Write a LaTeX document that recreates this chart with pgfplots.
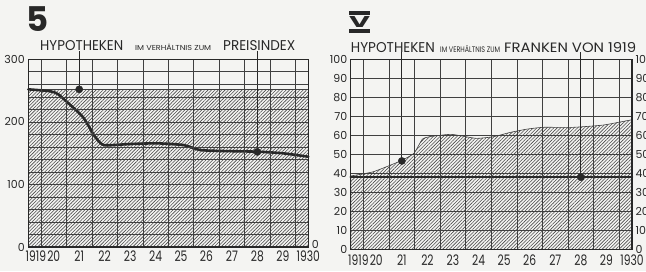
\documentclass[border=0pt]{standalone}
\usepackage{pgfplots}
\pgfplotsset{compat=1.18}
\usepackage{graphicx}
\usepackage{fontspec}
\setmainfont{Poppins}
\newfontfamily\tickfont{Poppins}[FakeStretch=0.74]
\usetikzlibrary{patterns.meta}
\definecolor{paper}{RGB}{244,244,242}
\definecolor{ink}{RGB}{40,40,40}

\pgfplotsset{
  base/.style={
    scale only axis, anchor=south west, clip=false,
    axis on top,
    xmin=1919, xmax=1930,
    xtick={1919.3,1920,1921,1922,1923,1924,1925,1926,1927,1928,1929,1930},
    xticklabels={1919,20,21,22,23,24,25,26,27,28,29,1930},
    minor xtick={1919.5,1920.5,...,1929.5},
    xmajorgrids=false, xminorgrids=true, ymajorgrids=true,
    major tick length=0pt, minor tick length=0pt,
    grid style={black!75, line width=0.65pt},
    minor grid style={black!75, line width=0.65pt},
    axis line style={ink, line width=1.5pt},
    xticklabel style={font=\tickfont\fontsize{14.5}{14.5}\selectfont, text=ink, inner sep=1pt, yshift=-3pt},
    yticklabel style={font=\fontsize{11}{11}\selectfont, text=ink},
  },
  rlab/.style={
    scale only axis, anchor=south west,
    xmin=1919, xmax=1930, axis x line=none, axis y line*=right,
    major tick length=0pt, axis line style={draw=none},
    yticklabel style={font=\fontsize{11}{11}\selectfont, text=ink},
  },
  hatch/.style={pattern={Lines[angle=45,distance=2.4pt,line width=0.6pt]}, pattern color=black!70, draw=black!75, line width=0.6pt},
  thickline/.style={ink, line width=2.6pt, line join=round, line cap=round},
  leader/.style={ink, line width=0.9pt},
  dot/.style={only marks, mark=*, mark size=3.6pt, ink},
}

\begin{document}
\begin{tikzpicture}
\fill[paper] (0,0) rectangle (646pt,271pt);

% ---------------- left chart ----------------
\begin{axis}[base, at={(28.3pt,24pt)}, width=280pt, height=187.7pt,
  ymin=0, ymax=300, ytick={0,100,200,300}, yticklabels={0,100,200,300},
  minor ytick={20,40,...,280}, yminorgrids=true]
\addplot[hatch] coordinates {(1919,252) (1930,252)} \closedcycle;
\addplot[leader] coordinates {(1921,252) (1921,314)};
\addplot[leader] coordinates {(1928,152) (1928,314)};
\addplot[thickline, smooth, tension=0.35] coordinates {
 (1919,252) (1919.85,249) (1920.18,244) (1920.84,220) (1921.16,207)
 (1921.42,190) (1921.56,180) (1921.95,163) (1923.0,164.6) (1924.05,165.7)
 (1925.09,163) (1925.75,155) (1926.66,153.4) (1928.04,152.3)
 (1929.02,149.7) (1930,144.3)};
\addplot[dot] coordinates {(1921,252) (1928,152)};
\end{axis}
\begin{axis}[rlab, at={(28.3pt,24pt)}, width=280pt, height=187.7pt,
  ymin=0, ymax=300, ytick={0}, yticklabels={0},
  yticklabel style={yshift=3pt}]
\addplot[draw=none] coordinates {(1919,0)};
\end{axis}

% ---------------- right chart ----------------
\begin{axis}[base, at={(350.7pt,21.7pt)}, width=281.3pt, height=190pt,
  ymin=0, ymax=100, ytick={0,10,...,100},
  yticklabels={0,10,20,30,40,50,60,70,80,90,100},
  xticklabel style={yshift=-1pt}]
\addplot[hatch, smooth, tension=0.3] coordinates {
 (1919,38.6) (1919.88,40.8) (1920.95,46.5) (1921.47,50.5) (1921.8,57.9)
 (1922.1,59.3) (1922.94,60.5) (1923.9,58.4) (1924.6,59.3) (1925.2,61.4)
 (1925.87,63.2) (1926.52,64.2) (1927.7,64.2) (1928.88,65.4) (1930,68.2)} \closedcycle;
\addplot[leader] coordinates {(1921,46.5) (1921,103.7)};
\addplot[leader] coordinates {(1928,38) (1928,103.7)};
\addplot[thickline] coordinates {(1919,38) (1930,38)};
\addplot[dot] coordinates {(1921,46.5) (1928,38)};
\end{axis}
\begin{axis}[rlab, at={(350.7pt,21.7pt)}, width=281.3pt, height=190pt,
  ymin=0, ymax=100, ytick={0,10,...,100},
  yticklabels={0,10,20,30,40,50,60,70,80,90,100}]
\addplot[draw=none] coordinates {(1919,0)};
\end{axis}

% ---------------- titles ----------------
\node[anchor=base west, inner sep=0, text=ink] at (26pt,239pt) {\fontsize{34}{34}\selectfont\bfseries 5};
\node[anchor=south west, inner sep=0, text=ink] at (349pt,238pt)
  {\resizebox{21pt}{22pt}{\bfseries\vbox{\hrule height 2.5pt\kern1pt\hbox{V}\kern1pt\hrule height 2.5pt}}};

\node[anchor=base west, inner sep=0, text=ink] at (40pt,220.3pt) {\resizebox{83pt}{10pt}{HYPOTHEKEN}};
\node[anchor=base west, inner sep=0, text=ink] at (135pt,220.3pt) {\resizebox{76pt}{6.3pt}{IM VERHÄLTNIS ZUM}};
\node[anchor=base west, inner sep=0, text=ink] at (223pt,220.3pt) {\resizebox{72pt}{10pt}{PREISINDEX}};

\node[anchor=base west, inner sep=0, text=ink] at (350.7pt,218.7pt) {\resizebox{84pt}{10pt}{HYPOTHEKEN}};
\node[anchor=base west, inner sep=0, text=ink] at (440pt,218.7pt) {\resizebox{60pt}{7pt}{IM VERHÄLTNIS ZUM}};
\node[anchor=base west, inner sep=0, text=ink] at (504pt,218.7pt) {\resizebox{132pt}{10pt}{FRANKEN VON 1919}};

\pgfresetboundingbox
\path[use as bounding box] (0,0) rectangle (646pt,271pt);
\end{tikzpicture}
\end{document}
